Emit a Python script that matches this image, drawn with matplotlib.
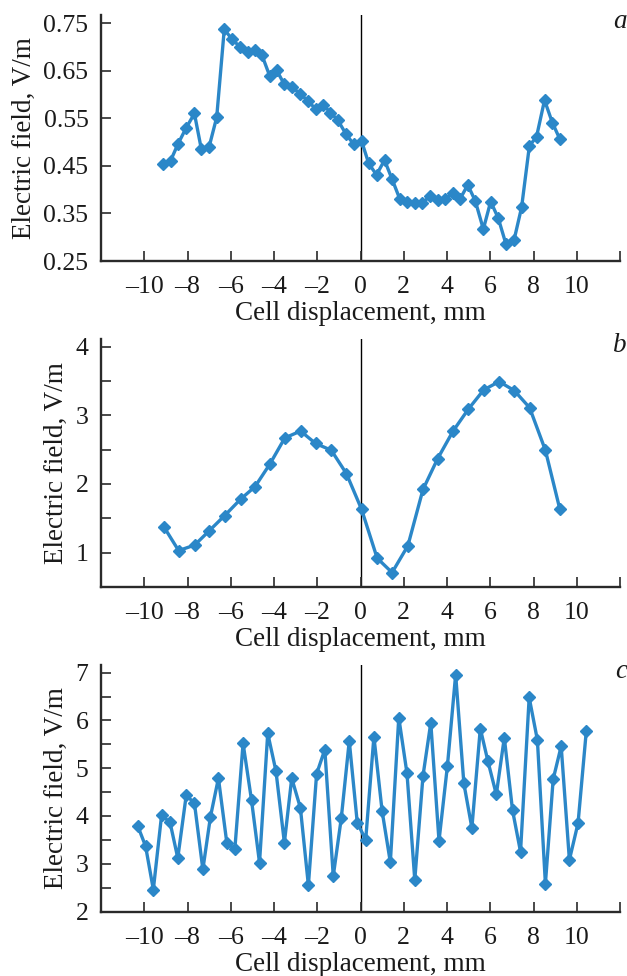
import matplotlib
matplotlib.use("Agg")
import matplotlib.pyplot as plt

plt.rcParams['font.family'] = ['Liberation Serif', 'DejaVu Serif']

# ---------------- data ----------------
xa = [-9.13, -8.78, -8.44, -8.07, -7.68, -7.36, -7.00, -6.65, -6.30, -5.94,
      -5.57, -5.22, -4.88, -4.56, -4.20, -3.88, -3.52, -3.16, -2.80, -2.45,
      -2.06, -1.72, -1.39, -1.05, -0.66, -0.31, 0.05, 0.38, 0.74, 1.11,
      1.46, 1.82, 2.17, 2.54, 2.86, 3.23, 3.57, 3.91, 4.26, 4.60,
      4.96, 5.31, 5.68, 6.02, 6.37, 6.73, 7.10, 7.45, 7.81, 8.14,
      8.51, 8.87, 9.22]
ya = [0.453, 0.461, 0.496, 0.529, 0.560, 0.485, 0.490, 0.552, 0.737, 0.716,
      0.700, 0.690, 0.693, 0.683, 0.639, 0.651, 0.621, 0.615, 0.602, 0.587,
      0.569, 0.578, 0.562, 0.546, 0.516, 0.495, 0.502, 0.455, 0.431, 0.462,
      0.422, 0.380, 0.375, 0.372, 0.372, 0.387, 0.378, 0.380, 0.392, 0.380,
      0.410, 0.376, 0.317, 0.375, 0.340, 0.285, 0.294, 0.363, 0.492, 0.511,
      0.588, 0.541, 0.506]

xb = [-9.08, -8.41, -7.67, -6.99, -6.28, -5.54, -4.88, -4.19, -3.50, -2.77,
      -2.08, -1.35, -0.65, 0.05, 0.77, 1.46, 2.19, 2.89, 3.57, 4.28,
      4.99, 5.70, 6.41, 7.11, 7.82, 8.55, 9.22]
yb = [1.37, 1.03, 1.11, 1.32, 1.54, 1.78, 1.96, 2.29, 2.67, 2.77,
      2.59, 2.49, 2.15, 1.63, 0.92, 0.71, 1.10, 1.92, 2.37, 2.77,
      3.09, 3.37, 3.49, 3.36, 3.11, 2.49, 1.63]

xc = [-10.31, -9.94, -9.58, -9.20, -8.81, -8.45, -8.06, -7.68, -7.29, -6.94,
      -6.57, -6.18, -5.81, -5.43, -5.04, -4.67, -4.29, -3.91, -3.52, -3.18,
      -2.78, -2.41, -2.03, -1.65, -1.26, -0.89, -0.52, -0.15, 0.24, 0.62,
      1.00, 1.38, 1.77, 2.15, 2.51, 2.89, 3.25, 3.63, 4.02, 4.40,
      4.78, 5.15, 5.54, 5.89, 6.28, 6.65, 7.03, 7.40, 7.80, 8.18,
      8.55, 8.91, 9.28, 9.66, 10.06, 10.44]
yc = [3.80, 3.37, 2.46, 4.01, 3.87, 3.12, 4.43, 4.27, 2.88, 3.98,
      4.79, 3.43, 3.31, 5.52, 4.33, 3.02, 5.73, 4.94, 3.44, 4.79,
      4.17, 2.55, 4.88, 5.39, 2.74, 3.95, 5.57, 3.86, 3.50, 5.66,
      4.10, 3.03, 6.06, 4.89, 2.66, 4.84, 5.95, 3.48, 5.05, 6.96,
      4.68, 3.75, 5.83, 5.15, 4.45, 5.64, 4.12, 3.25, 6.48, 5.59,
      2.58, 4.77, 5.46, 3.08, 3.85, 5.77]

x_ticks = [-10, -8, -6, -4, -2, 0, 2, 4, 6, 8, 10, 12]
x_ticklabels = ['\u201310', '\u20138', '\u20136', '\u20134', '\u20132', '0',
                '2', '4', '6', '8', '10', '']

ya_ticks = [0.25, 0.35, 0.45, 0.55, 0.65, 0.75]
ya_ticklabels = ['0.25', '0.35', '0.45', '0.55', '0.65', '0.75']
yb_ticks = [1.0, 1.5, 2.0, 2.5, 3.0, 3.5, 4.0]
yb_ticklabels = ['1', '', '2', '', '3', '', '4']
yc_ticks = [2.0, 2.5, 3.0, 3.5, 4.0, 4.5, 5.0, 5.5, 6.0, 6.5, 7.0]
yc_ticklabels = ['2', '', '3', '', '4', '', '5', '', '6', '', '7']

panels = [
    ('a', xa, ya, (0.25, 0.767), ya_ticks, ya_ticklabels, (-12, 12)),
    ('b', xb, yb, (0.5, 4.11), yb_ticks, yb_ticklabels, (-12, 12)),
    ('c', xc, yc, (2.0, 7.16), yc_ticks, yc_ticklabels, (-12, 12)),
]

# ---------------- layout ----------------
W, H = 627, 976
fig = plt.figure(figsize=(W / 100, H / 100), dpi=100)
left_px, right_px = 101, 620
boxes = [(15, 261), (339, 587), (665, 911.5)]

line_color = '#2b87c8'
spine_color = '#2a2a2a'
text_color = '#1a1a1a'
fs = 18.5

for (lab, xs, ys, ylim, yt, ytl, xlim), (top, bot) in zip(panels, boxes):
    ax = fig.add_axes([left_px / W, 1 - bot / H, (right_px - left_px) / W, (bot - top) / H])
    ax.plot(xs, ys, color=line_color, lw=2.4, marker='D', ms=6.2,
            markerfacecolor=line_color, markeredgecolor=line_color)
    ax.axvline(0, color='black', lw=1.0, zorder=0)
    ax.set_xlim(*xlim)
    ax.set_ylim(*ylim)
    ax.set_xticks(x_ticks)
    ax.set_xticklabels(x_ticklabels)
    ax.set_yticks(yt)
    ax.set_yticklabels(ytl)
    for s in ['top', 'right']:
        ax.spines[s].set_visible(False)
    for s in ['left', 'bottom']:
        ax.spines[s].set_linewidth(1.7)
        ax.spines[s].set_color(spine_color)
    ax.tick_params(direction='in', length=7, width=1.2, color=spine_color,
                   labelsize=fs, labelcolor=text_color)
    ax.tick_params(axis='x', pad=11)
    ax.tick_params(axis='y', pad=9)
    ax.set_xlabel('Cell displacement, mm', fontsize=19.5, color=text_color, labelpad=2)
    ax.set_ylabel('Electric field, V/m', fontsize=19.5, color=text_color, labelpad=5)
    ax.text(1.013, 0.975, lab, transform=ax.transAxes, ha='right', va='center',
            fontsize=19.5, style='italic', color=text_color)

fig.savefig('out.png', dpi=100)
